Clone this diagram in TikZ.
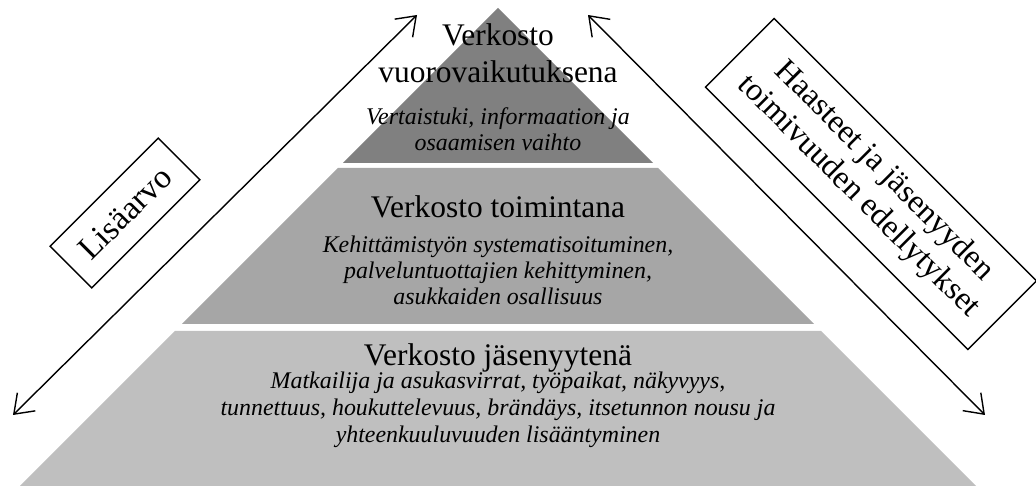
\documentclass[tikz,border=0pt]{standalone}
\usepackage{fontspec}
\setmainfont{Liberation Serif}
\usepackage{tikz}
\usetikzlibrary{arrows.meta,positioning}
\definecolor{topgray}{gray}{0.50}
\definecolor{midgray}{gray}{0.65}
\definecolor{basegray}{gray}{0.75}
\tikzset{
    >={Straight Barb[length=10pt,width=14.5pt]},
    heading/.style={
        align=center,
        inner sep=0pt,
        font={\fontsize{17.9pt}{21pt}\selectfont}
    },
    detail/.style={
        align=center,
        inner sep=0pt,
        font={\fontsize{13.6pt}{14.8pt}\selectfont\itshape}
    },
    sidebox/.style={
        draw, line width=0.8pt,
        fill=white,
        align=center,
        inner sep=2pt,
        font={\fontsize{18.4pt}{20.5pt}\selectfont}
    },
    axis/.style={<->, line width=0.8pt},
}

\begin{document}
\begin{tikzpicture}[x=0.02cm, y=-0.02cm]
        \useasboundingbox (0, 0) rectangle (1036, 486);

        % pyramid layers
        \fill [basegray] (175, 331) -- (821, 331) -- (976, 486) -- (20, 486) -- cycle;
        \fill [midgray] (338, 168) -- (658, 168) -- (814, 324) -- (182, 324) -- cycle;
        \fill [topgray] (498, 8) -- (653, 163) -- (343, 163) -- cycle;

        \node [heading] (toph) at (498, 53) {Verkosto\\vuorovaikutuksena};
        \node [detail] (topd) at (498, 129) {Vertaistuki, informaation ja\\osaamisen vaihto};

        \node [heading] (midh) at (498, 207) {Verkosto toimintana};
        \node [detail] (midd) at (498, 270) {Kehittämistyön systematisoituminen,\\palveluntuottajien kehittyminen,\\asukkaiden osallisuus};

        \node [heading] (baseh) at (498, 358) {Verkosto jäsenyytenä};
        \node [detail, font={\fontsize{13.6pt}{15.5pt}\selectfont\itshape}] (based) at (498, 410) {Matkailija ja asukasvirrat, työpaikat, näkyvyys,\\tunnettuus, houkuttelevuus, brändäys, itsetunnon nousu ja\\yhteenkuuluvuuden lisääntyminen};

        % side arrows
        \coordinate (lbot) at (13, 415);
        \coordinate (ltop) at (417, 15);
        \coordinate (rtop) at (588, 15);
        \coordinate (rbot) at (985, 415);
        \draw [axis] (lbot) -- (ltop);
        \draw [axis] (rtop) -- (rbot);

        \node [sidebox, font={\fontsize{19pt}{21pt}\selectfont}, rotate=45, minimum width=3.06cm, minimum height=1.18cm] (lisa) at (125, 213) {Lisäarvo};
        \node [sidebox, rotate=-45, minimum width=7.42cm, minimum height=1.94cm] (haaste) at (871, 184) {Haasteet ja jäsenyyden\\toimivuuden edellytykset};
      \end{tikzpicture}
\end{document}
